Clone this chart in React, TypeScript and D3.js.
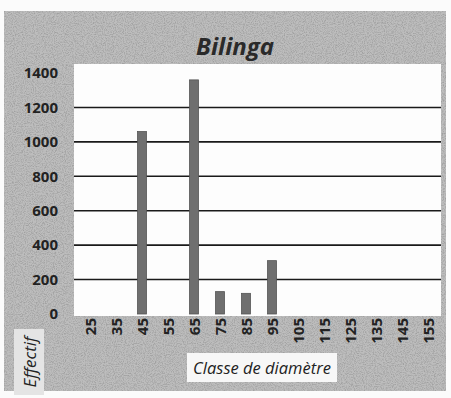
import React from "react";
import * as d3 from "d3";

const categories = ["25", "35", "45", "55", "65", "75", "85", "95", "105", "115", "125", "135", "145", "155"];
const values = [0, 0, 1060, 0, 1360, 130, 120, 310, 0, 0, 0, 0, 0, 0];
const yTicks = [0, 200, 400, 600, 800, 1000, 1200, 1400];
const title = "Bilinga";
const xTitle = "Classe de diamètre";
const yTitle = "Effectif";

const W = 451;
const H = 398;
const plot = { left: 74, right: 441, top: 64, bottom: 314 };

export default function App() {
  const x = d3.scaleBand<string>().domain(categories).range([77, 441]).paddingInner(0).paddingOuter(0);
  const y = d3.scaleLinear().domain([0, 1400]).range([314, 73]);
  const barW = 9;
  const font = "'Open Sans', 'Liberation Sans', sans-serif";

  return (
    <svg width={W} height={H} style={{ position: "absolute", left: 0, top: 0, background: "#fbfbfb" }}>
      <defs>
        <filter id="noise" x="0" y="0" width="100%" height="100%">
          <feTurbulence type="fractalNoise" baseFrequency="0.9" numOctaves="3" seed="5" result="t" />
          <feColorMatrix type="matrix" values="0 0 0 0 0.3  0 0 0 0 0.3  0 0 0 0 0.3  2.5 0 0 0 -1.0" />
        </filter>
      </defs>
      <rect x={4} y={11} width={442} height={380} fill="#bdbdbd" />
      <rect x={4} y={11} width={442} height={380} filter="url(#noise)" opacity={0.7} />
      <rect x={plot.left} y={plot.top} width={plot.right - plot.left} height={plot.bottom - plot.top + 2} fill="#fdfdfd" />
      {yTicks.filter((t) => t > 0 && t < 1400).map((t) => (
        <line key={t} x1={plot.left} x2={plot.right} y1={y(t)} y2={y(t)} stroke="#1a1a1a" strokeWidth={1.6} />
      ))}
      {categories.map((c, i) =>
        values[i] > 0 ? (
          <rect
            key={c}
            x={(x(c) as number) + x.bandwidth() / 2 - barW / 2}
            y={y(values[i])}
            width={barW}
            height={y(0) - y(values[i])}
            fill="#6f6f6f"
            stroke="#555"
            strokeWidth={0.8}
          />
        ) : null
      )}
      {yTicks.map((t) => (
        <text key={t} x={58} y={y(t)} dy="0.35em" textAnchor="end" fontFamily={font} fontWeight="bold" fontSize={15} fill="#222">
          {t}
        </text>
      ))}
      {categories.map((c) => (
        <text
          key={c}
          transform={`translate(${(x(c) as number) + x.bandwidth() / 2 + 1},${318}) rotate(-90)`}
          textAnchor="end"
          dy="0.35em"
          fontFamily={font}
          fontWeight="bold"
          fontSize={15}
          fill="#222"
        >
          {c}
        </text>
      ))}
      <text x={235} y={55} textAnchor="middle" fontFamily={font} fontWeight="bold" fontStyle="italic" fontSize={24} fill="#2a2a2a">
        {title}
      </text>
      <rect x={187} y={353} width={150} height={29} fill="#f7f7f7" />
      <text x={262} y={368} dy="0.35em" textAnchor="middle" fontFamily={font} fontStyle="italic" fontSize={16.5} fill="#222">
        {xTitle}
      </text>
      <rect x={14} y={329} width={30} height={66} fill="#e4e4e4" />
      <text transform="translate(30,362) rotate(-90)" dy="0.35em" textAnchor="middle" fontFamily={font} fontStyle="italic" fontSize={17} fill="#222">
        {yTitle}
      </text>
    </svg>
  );
}
